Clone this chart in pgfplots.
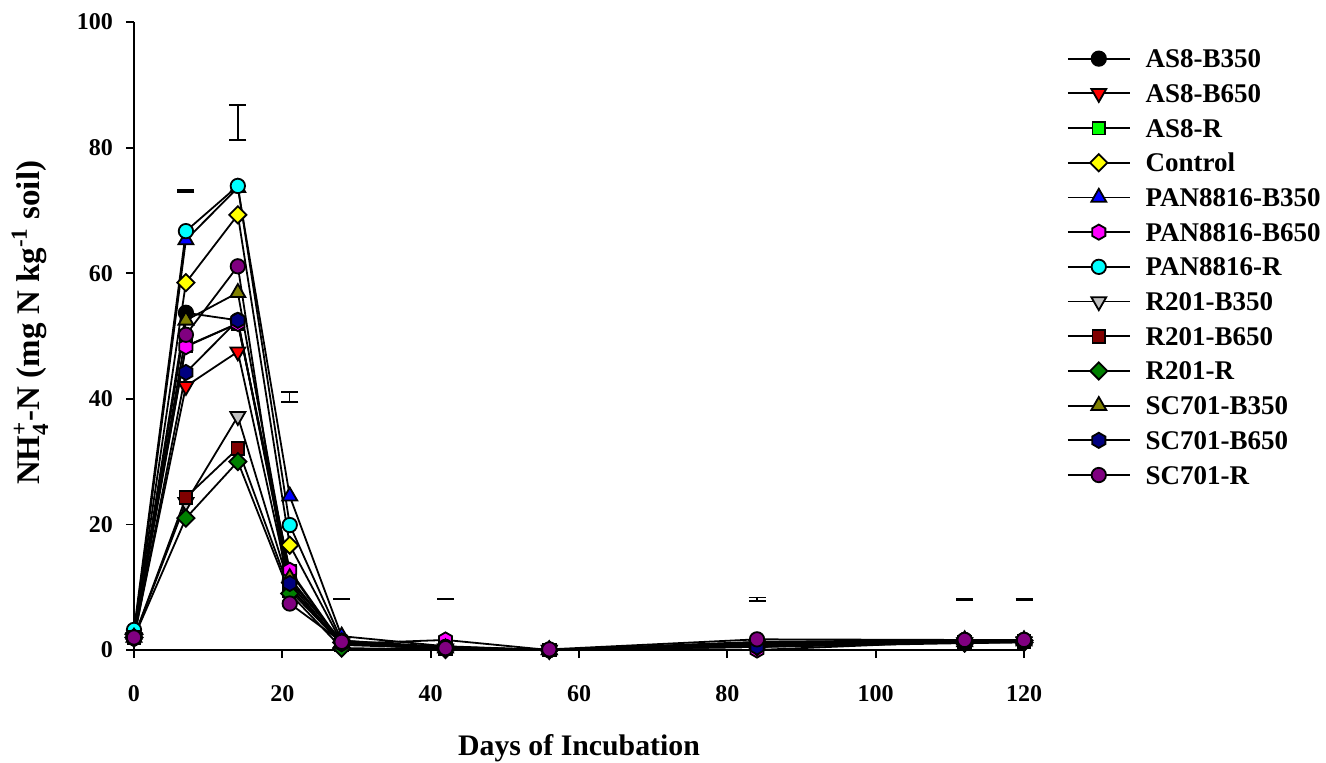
\documentclass[border=0pt]{standalone}
\usepackage{fontspec}
\setmainfont{Liberation Serif}
\usepackage{amsmath}
\usepackage{pgfplots}
\usepackage{pgfplotstable}
\pgfplotsset{compat=1.18}
\usetikzlibrary{plotmarks}

\definecolor{cAS8B350}{RGB}{0,0,0}
\definecolor{cAS8B650}{RGB}{255,0,0}
\definecolor{cAS8R}{RGB}{0,255,0}
\definecolor{cControl}{RGB}{255,255,0}
\definecolor{cPANB350}{RGB}{0,0,255}
\definecolor{cPANB650}{RGB}{255,0,255}
\definecolor{cPANR}{RGB}{0,255,255}
\definecolor{cRB350}{RGB}{192,192,192}
\definecolor{cRB650}{RGB}{128,0,0}
\definecolor{cRR}{RGB}{0,128,0}
\definecolor{cSCB350}{RGB}{128,128,0}
\definecolor{cSCB650}{RGB}{0,0,128}
\definecolor{cSCR}{RGB}{128,0,128}

\pgfdeclareplotmark{rhombus*}{%
  \pgfpathmoveto{\pgfqpoint{0pt}{\pgfplotmarksize}}%
  \pgfpathlineto{\pgfqpoint{\pgfplotmarksize}{0pt}}%
  \pgfpathlineto{\pgfqpoint{0pt}{-\pgfplotmarksize}}%
  \pgfpathlineto{\pgfqpoint{-\pgfplotmarksize}{0pt}}%
  \pgfpathclose\pgfusepathqfillstroke}
\pgfdeclareplotmark{hexagon*}{%
  \pgfpathmoveto{\pgfpointpolar{90}{\pgfplotmarksize}}%
  \pgfpathlineto{\pgfpointpolar{150}{\pgfplotmarksize}}%
  \pgfpathlineto{\pgfpointpolar{210}{\pgfplotmarksize}}%
  \pgfpathlineto{\pgfpointpolar{270}{\pgfplotmarksize}}%
  \pgfpathlineto{\pgfpointpolar{330}{\pgfplotmarksize}}%
  \pgfpathlineto{\pgfpointpolar{30}{\pgfplotmarksize}}%
  \pgfpathclose\pgfusepathqfillstroke}

\pgfplotstableread{
day  AS8B350 AS8B650 AS8R Control PANB350 PANB650 PANR RB350 RB650 RR SCB350 SCB650 SCR
0    2.0  2.0  2.5  2.5  2.5  2.0  3.2  2.0  2.0  2.0  2.0  1.8  2.0
7    53.7 42.0 48.4 58.5 65.3 48.3 66.7 23.5 24.3 21.0 52.5 44.2 50.2
14   52.5 47.5 52.0 69.3 73.6 52.0 73.9 37.2 32.1 30.0 56.9 52.5 61.1
21   11.0 10.0 12.5 16.7 24.5 12.7 19.9 10.0 9.5  9.0  11.5 10.6 7.4
28   1.5  1.0  0.8  1.2  2.2  1.0  1.5  1.0  1.0  0.3  1.2  1.0  1.3
42   0.3  0.2  0.3  0.5  0.6  1.6  0.5  0.2  0.2  0.1  0.3  0.2  0.3
56   0.0  0.0  0.0  0.0  0.0  0.0  0.0  0.0  0.0  0.0  0.0  0.0  0.1
84   1.2  0.8  0.5  1.0  1.2  0.0  1.3  0.8  0.8  0.5  0.8  0.5  1.7
112  1.4  1.2  1.3  1.5  1.6  1.4  1.6  1.2  1.2  1.1  1.3  1.3  1.6
120  1.5  1.3  1.4  1.5  1.6  1.5  1.6  1.3  1.3  1.2  1.4  1.4  1.6
}\datatable

\pgfplotstableread{
x    y     e
7    73.1  0.15
14   84.0  2.8
21   40.3  0.8
28   8.1   0.05
42   8.1   0.05
84   8.1   0.3
112  8.1   0.12
120  8.1   0.12
}\lsdtable

\begin{document}
\begin{tikzpicture}
\useasboundingbox (-67pt,-56pt) rectangle (596pt,325pt);
\begin{axis}[
  at={(0,0)}, anchor=south west,
  width=445pt, height=314pt, scale only axis,
  xmin=0, xmax=120, ymin=0, ymax=100,
  clip=false,
  axis x line=bottom, axis y line=left,
  axis line style={-, line width=0.9pt},
  xtick={0,20,...,120}, ytick={0,20,...,100},
  tick align=outside, major tick length=4pt,
  tick style={line width=0.9pt, black},
  /pgf/number format/assume math mode=true,
  ticklabel style={font=\fontsize{12}{14}\selectfont\bfseries},
  xticklabel style={yshift=-10pt},
  yticklabel style={xshift=-3pt},
  xlabel={Days of Incubation},
  ylabel={NH$_{\text{4}}^{\text{+}}$-N (mg N kg$^{\text{-1}}$ soil)},
  xlabel style={font=\fontsize{14.9}{17}\selectfont\bfseries, at={(axis description cs:0.5,-0.156)}, anchor=center},
  ylabel style={font=\fontsize{16.5}{18}\selectfont\bfseries, at={(axis description cs:-0.117,0.521)}, anchor=center},
  legend style={draw=none, fill=none, at={(1.041,0.9646)}, anchor=north west,
    font=\fontsize{13.5}{15}\selectfont\bfseries, row sep=4.35pt,
    nodes={inner sep=0pt, text height=9.5pt, text depth=3.5pt},
    /tikz/every odd column/.append style={column sep=7.5pt}},
  legend cell align=left,
  legend image code/.code={%
    \draw[mark repeat=2,mark phase=2,#1] plot coordinates {(0pt,1.5pt) (15.5pt,1.5pt) (31pt,1.5pt)};},
  every axis plot/.append style={line width=0.9pt, black, mark options={line width=0.7pt, draw=black}},
]
\addplot[mark=*, mark size=3.6pt, mark options={fill=cAS8B350}] table[x=day,y=AS8B350] {\datatable};
\addlegendentry{AS8-B350}
\addplot[mark=triangle*, mark size=4.3pt, mark options={fill=cAS8B650, rotate=180}] table[x=day,y=AS8B650] {\datatable};
\addlegendentry{AS8-B650}
\addplot[mark=square*, mark size=3.2pt, mark options={fill=cAS8R}] table[x=day,y=AS8R] {\datatable};
\addlegendentry{AS8-R}
\addplot[mark=rhombus*, mark size=4.3pt, mark options={fill=cControl}] table[x=day,y=Control] {\datatable};
\addlegendentry{Control}
\addplot[mark=triangle*, mark size=4.3pt, mark options={fill=cPANB350}] table[x=day,y=PANB350] {\datatable};
\addlegendentry{PAN8816-B350}
\addplot[mark=hexagon*, mark size=3.8pt, mark options={fill=cPANB650}] table[x=day,y=PANB650] {\datatable};
\addlegendentry{PAN8816-B650}
\addplot[mark=*, mark size=3.6pt, mark options={fill=cPANR}] table[x=day,y=PANR] {\datatable};
\addlegendentry{PAN8816-R}
\addplot[mark=triangle*, mark size=4.3pt, mark options={fill=cRB350, rotate=180}] table[x=day,y=RB350] {\datatable};
\addlegendentry{R201-B350}
\addplot[mark=square*, mark size=3.2pt, mark options={fill=cRB650}] table[x=day,y=RB650] {\datatable};
\addlegendentry{R201-B650}
\addplot[mark=rhombus*, mark size=4.3pt, mark options={fill=cRR}] table[x=day,y=RR] {\datatable};
\addlegendentry{R201-R}
\addplot[mark=triangle*, mark size=4.3pt, mark options={fill=cSCB350}] table[x=day,y=SCB350] {\datatable};
\addlegendentry{SC701-B350}
\addplot[mark=hexagon*, mark size=3.8pt, mark options={fill=cSCB650}] table[x=day,y=SCB650] {\datatable};
\addlegendentry{SC701-B650}
\addplot[mark=*, mark size=3.6pt, mark options={fill=cSCR}] table[x=day,y=SCR] {\datatable};
\addlegendentry{SC701-R}
\addplot[forget plot, draw=none, mark=none,
  error bars/.cd, y dir=both, y explicit,
  error bar style={draw=black, line width=0.7pt},
  error mark options={rotate=90, mark size=4.25pt, line width=0.7pt, draw=black}]
  table[x=x, y=y, y error=e] {\lsdtable};
\end{axis}
\end{tikzpicture}
\end{document}
